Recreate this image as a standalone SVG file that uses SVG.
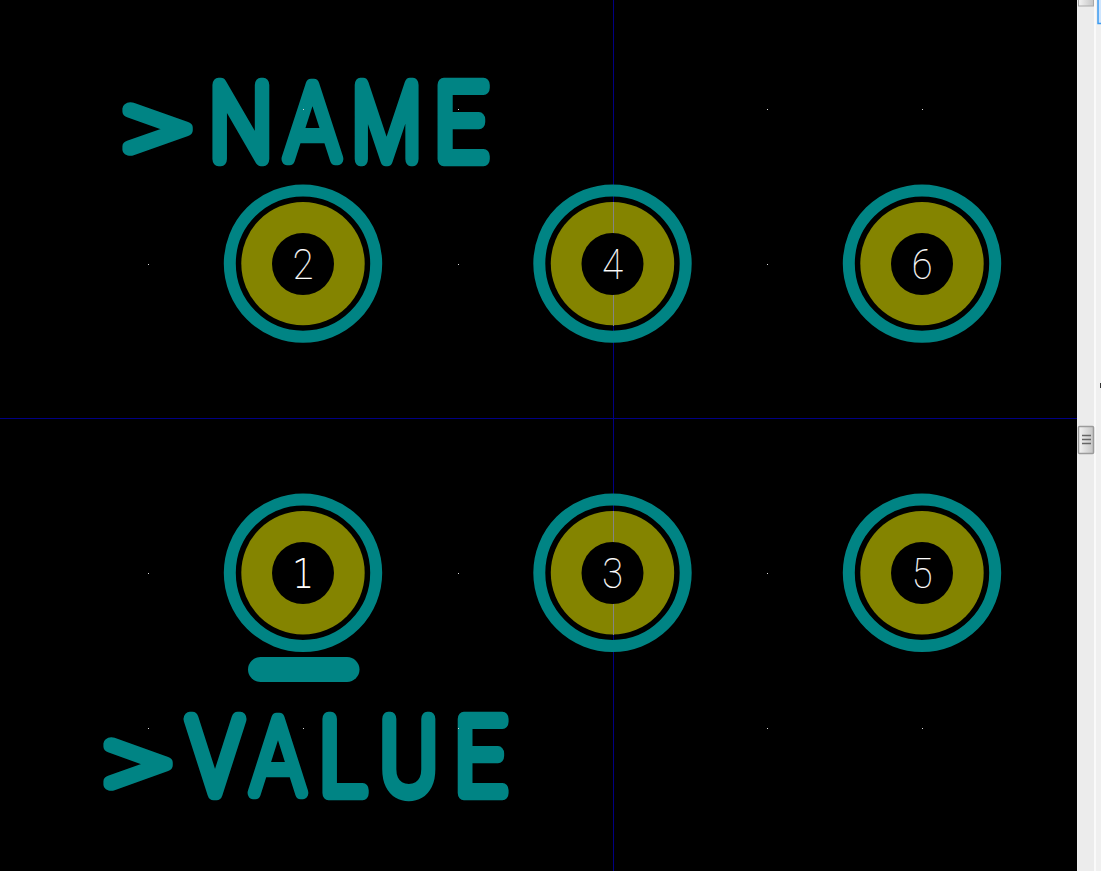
<svg xmlns="http://www.w3.org/2000/svg" width="1101" height="871" viewBox="0 0 1101 871">
<style>
.ring{fill:none;stroke:#008484;stroke-width:12}
.cu{fill:#848400}
.hole{fill:#000}
.num{font-family:Roboto,"Liberation Sans",sans-serif;font-weight:100;font-size:42px;fill:#fff;stroke:#fff;stroke-width:.2px;text-anchor:middle}
.num1{font-family:"DejaVu Sans","Liberation Sans",sans-serif;font-weight:200;font-size:41px;fill:#fff;text-anchor:middle}
.big{font-family:Roboto,"Liberation Sans",sans-serif;font-weight:100;font-size:104px;fill:#008484;stroke:#008484;stroke-width:14.5px;stroke-linejoin:round;stroke-linecap:round}
.gt{stroke-width:12.5px}
.a{stroke-width:12.5px}
.dot{fill:#d8d8d8}
</style>
<defs>
<g id="pad"><circle class="ring" r="73.200"/><circle class="cu" r="61.700"/></g>
<linearGradient id="thumb"><stop offset="0" stop-color="#f4f4f4"/><stop offset="1" stop-color="#c4c4c4"/></linearGradient>
</defs>
<rect width="1101" height="871" fill="#000"/>
<g id="axes">
<rect x="613" y="0" width="1" height="871" fill="#000084"/>
<rect x="0" y="418" width="1077" height="1" fill="#000084"/>
</g>
<g id="pad-2"><use href="#pad" x="303" y="263.600"/><circle class="hole" cx="303" cy="264" r="31"/><text class="num" transform="translate(303 279) scale(.9 1)">2</text></g>
<g id="pad-4"><use href="#pad" x="612.500" y="263.600"/><rect x="613" y="202" width="1" height="124" fill="#848484"/><circle class="hole" cx="612.500" cy="264" r="31"/><text class="num" transform="translate(612.500 279) scale(.9 1)">4</text></g>
<g id="pad-6"><use href="#pad" x="922" y="263.600"/><circle class="hole" cx="922" cy="264" r="31"/><text class="num" transform="translate(922 279) scale(.9 1)">6</text></g>
<g id="pad-1"><use href="#pad" x="303" y="572.800"/><circle class="hole" cx="303" cy="573" r="31"/><text class="num1" transform="translate(303 587.500) scale(.85 1)">1</text></g>
<g id="pad-3"><use href="#pad" x="612.500" y="572.800"/><rect x="613" y="511" width="1" height="124" fill="#848484"/><circle class="hole" cx="612.500" cy="573" r="31"/><text class="num" transform="translate(612.500 588) scale(.9 1)">3</text></g>
<g id="pad-5"><use href="#pad" x="922" y="572.800"/><circle class="hole" cx="922" cy="573" r="31"/><text class="num" transform="translate(922 588) scale(.9 1)">5</text></g>
<rect id="pin-marker" x="248" y="657" width="111.500" height="25" rx="12.500" fill="#008484"/>
<text id="name" class="big" y="158.500"><tspan class="gt" x="123" y="163" textLength="68.500" lengthAdjust="spacingAndGlyphs">&gt;</tspan><tspan x="210" y="158.500" textLength="61.700" lengthAdjust="spacingAndGlyphs">N</tspan><tspan class="a" x="285.500" textLength="54" lengthAdjust="spacingAndGlyphs">A</tspan><tspan x="352.400" textLength="68.300" lengthAdjust="spacingAndGlyphs">M</tspan><tspan x="435" textLength="52" lengthAdjust="spacingAndGlyphs">E</tspan></text>
<text id="value" class="big" y="792.500"><tspan class="gt" x="104" y="797.500" textLength="67.500" lengthAdjust="spacingAndGlyphs">&gt;</tspan><tspan x="188.300" y="792.500" textLength="53.500" lengthAdjust="spacingAndGlyphs">V</tspan><tspan class="a" x="251.500" textLength="53" lengthAdjust="spacingAndGlyphs">A</tspan><tspan x="320" textLength="45" lengthAdjust="spacingAndGlyphs">L</tspan><tspan x="380.500" textLength="56.600" lengthAdjust="spacingAndGlyphs">U</tspan><tspan x="455.200" textLength="50.600" lengthAdjust="spacingAndGlyphs">E</tspan></text>
<g id="grid-dots">
<rect class="dot" x="148" y="264" width="1" height="1"/><rect class="dot" x="458" y="264" width="1" height="1"/><rect class="dot" x="767" y="264" width="1" height="1"/>
<rect class="dot" x="148" y="573" width="1" height="1"/><rect class="dot" x="458" y="573" width="1" height="1"/><rect class="dot" x="767" y="573" width="1" height="1"/>
<rect class="dot" x="303" y="109" width="1" height="1"/><rect class="dot" x="458" y="109" width="1" height="1"/><rect class="dot" x="767" y="109" width="1" height="1"/><rect class="dot" x="922" y="109" width="1" height="1"/>
<rect class="dot" x="148" y="728" width="1" height="1"/><rect class="dot" x="303" y="728" width="1" height="1"/><rect class="dot" x="458" y="728" width="1" height="1"/><rect class="dot" x="767" y="728" width="1" height="1"/><rect class="dot" x="922" y="728" width="1" height="1"/>
</g>
<g id="scrollbar">
<rect x="1077" y="0" width="24" height="871" fill="#f0f0f0"/>
<rect x="1078" y="0" width="16" height="871" fill="#ececec"/>
<rect x="1094" y="0" width="2" height="871" fill="#fafafa"/>
<rect x="1078.500" y="-4" width="15" height="10" fill="url(#thumb)" stroke="#a8a8a8"/>
<rect x="1098" y="-3" width="6" height="26.500" fill="#cfe6ff" stroke="#3c9bf0" stroke-width="1.500"/>
<rect x="1100" y="383" width="1" height="5" fill="#333"/>
<rect x="1078.500" y="426.500" width="15" height="27" rx="1" fill="url(#thumb)" stroke="#9c9c9c" stroke-width="1.500"/>
<path d="M1082 435.500h9M1082 439.500h9M1082 443.500h9" stroke="#666" stroke-width="1.500" fill="none"/>
</g>
</svg>
